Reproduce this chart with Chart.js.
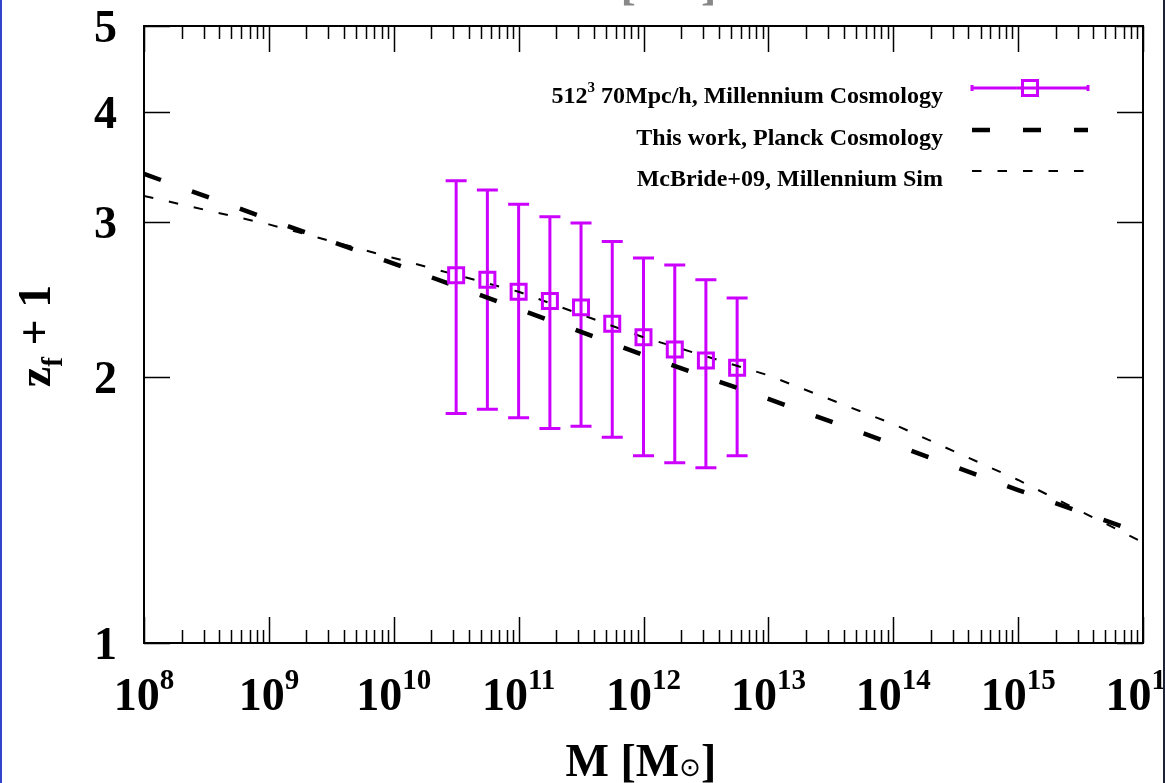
<!DOCTYPE html>
<html>
<head>
<meta charset="utf-8">
<script src="https://cdn.jsdelivr.net/npm/chart.js@4.4.1/dist/chart.umd.min.js"></script>
<style>
  html, body { margin: 0; padding: 0; background: #fff; }
  canvas { display: block; }
</style>
</head>
<body>
<canvas id="zf" width="1165" height="783"></canvas>
<script>
// Formation redshift (z_f + 1) against halo mass, log-log

// 512^3 box, Millennium cosmology: medians with 1-sigma spread
const simMass = [3.16e10, 5.62e10, 1.0e11, 1.78e11, 3.16e11, 5.62e11, 1.0e12, 1.78e12, 3.16e12, 5.62e12]
const simZf1 = [2.61, 2.58, 2.50, 2.44, 2.40, 2.30, 2.22, 2.15, 2.09, 2.05]
const simUpper = [3.34, 3.26, 3.14, 3.04, 2.99, 2.85, 2.73, 2.68, 2.58, 2.46]
const simLower = [1.82, 1.84, 1.80, 1.75, 1.76, 1.71, 1.63, 1.60, 1.58, 1.63]

// model curves
const curveMass = [1e8, 1e9, 1e10, 1e11, 1e12, 1e13, 1e14, 1e15, 1e16]
const planckZf1 = [3.40, 3.02, 2.69, 2.39, 2.12, 1.89, 1.68, 1.49, 1.33]
const mcbrideZf1 = [3.21, 2.98, 2.73, 2.50, 2.22, 2.01, 1.77, 1.53, 1.30]

const xTickExps = [8, 9, 10, 11, 12, 13, 14, 15, 16]
const yTicks = [1, 2, 3, 4, 5]

const seriesLabels = [
  "512^{3} 70Mpc/h, Millennium Cosmology",
  "This work, Planck Cosmology",
  "McBride+09, Millennium Sim",
]

const MAGENTA = "#cc00ff"
const SERIF = "'Liberation Serif', 'Times New Roman', serif"

// split "a^{b}c_{d}" into plain / super / sub runs
function richParts(str) {
  const parts = []
  const re = /([\^_])\{([^}]*)\}/g
  let last = 0, m
  while ((m = re.exec(str))) {
    if (m.index > last) parts.push({ t: str.slice(last, m.index), k: "" })
    parts.push({ t: m[2], k: m[1] })
    last = re.lastIndex
  }
  if (last < str.length) parts.push({ t: str.slice(last), k: "" })
  return parts
}

function drawRich(ctx, str, x, y, size, align) {
  const parts = richParts(str)
  const small = Math.round(size * 0.62)
  const fontFor = p => `bold ${p.k ? small : size}px ${SERIF}`
  let w = 0
  parts.forEach(p => { ctx.font = fontFor(p); p.w = ctx.measureText(p.t).width; w += p.w })
  let cx = align === "right" ? x - w : align === "center" ? x - w / 2 : x
  parts.forEach(p => {
    ctx.font = fontFor(p)
    const dy = p.k === "^" ? -size * 0.45 : p.k === "_" ? size * 0.25 : 0
    ctx.fillText(p.t, cx, y + dy)
    cx += p.w
  })
}

function drawMassTitle(ctx, cx, y, color) {
  const runs = [
    { t: "M [M", f: `bold 46px ${SERIF}` },
    { t: "\u2299", f: "26px 'DejaVu Sans'" },
    { t: "]", f: `bold 46px ${SERIF}` },
  ]
  let w = 0
  runs.forEach(r => { ctx.font = r.f; r.w = ctx.measureText(r.t).width; w += r.w })
  let x = cx - w / 2
  ctx.fillStyle = color
  runs.forEach(r => { ctx.font = r.f; ctx.fillText(r.t, x, y); x += r.w })
}

// vertical error bars with caps, under the square markers
const errorBars = {
  id: "errorBars",
  beforeDatasetsDraw(chart) {
    const { ctx, scales: { x, y } } = chart
    ctx.save()
    ctx.strokeStyle = MAGENTA
    ctx.lineWidth = 3
    simMass.forEach((m, i) => {
      const px = x.getPixelForValue(m)
      const top = y.getPixelForValue(simUpper[i])
      const bot = y.getPixelForValue(simLower[i])
      ctx.beginPath()
      ctx.moveTo(px, top); ctx.lineTo(px, bot)
      ctx.moveTo(px - 10.5, top); ctx.lineTo(px + 10.5, top)
      ctx.moveTo(px - 10.5, bot); ctx.lineTo(px + 10.5, bot)
      ctx.stroke()
    })
    ctx.restore()
  },
}

// gnuplot-style frame: inward ticks on all four sides, labels, titles, key
const frame = {
  id: "frame",
  afterDraw(chart) {
    const { ctx, chartArea: a, scales: { x, y } } = chart
    ctx.save()
    ctx.strokeStyle = "#000"
    ctx.fillStyle = "#000"
    ctx.textBaseline = "alphabetic"

    // ticks
    ctx.lineWidth = 1.5
    ctx.beginPath()
    xTickExps.forEach(e => {
      for (let k = 1; k <= 9; k++) {
        const v = k * Math.pow(10, e)
        if (v > x.max * 1.0001) break
        const px = Math.round(x.getPixelForValue(v)) + 0.5
        const len = k === 1 ? 26 : 13
        ctx.moveTo(px, a.bottom); ctx.lineTo(px, a.bottom - len)
        ctx.moveTo(px, a.top); ctx.lineTo(px, a.top + len)
      }
    })
    yTicks.forEach(v => {
      const py = Math.round(y.getPixelForValue(v)) + 0.5
      ctx.moveTo(a.left, py); ctx.lineTo(a.left + 26, py)
      ctx.moveTo(a.right, py); ctx.lineTo(a.right - 26, py)
    })
    ctx.stroke()

    // border
    ctx.lineWidth = 2
    ctx.strokeRect(a.left, a.top, a.right - a.left, a.bottom - a.top)

    // tick labels
    ctx.textAlign = "left"
    xTickExps.forEach(e => {
      drawRich(ctx, `10^{${e}}`, x.getPixelForValue(Math.pow(10, e)), 710, 46, "center")
    })
    yTicks.forEach(v => {
      drawRich(ctx, String(v), 117, y.getPixelForValue(v) + 16, 46, "right")
    })

    // axis titles (the upper one belongs to the panel above, cut by the page top)
    drawMassTitle(ctx, 641, 776, "#000")
    drawMassTitle(ctx, 641, -1, "#888")
    ctx.save()
    ctx.translate(50, 336)
    ctx.rotate(-Math.PI / 2)
    ctx.fillStyle = "#000"
    drawRich(ctx, "z_{f} + 1", 0, 0, 46, "center")
    ctx.restore()

    // key
    const ds = chart.data.datasets
    const rows = [103, 145, 186]
    const x0 = 972, x1 = 1088
    rows.forEach((by, i) => {
      ctx.fillStyle = "#000"
      drawRich(ctx, seriesLabels[i], 943, by, 24, "right")
      const sy = by - 15
      const d = ds[i]
      ctx.save()
      ctx.strokeStyle = d.borderColor
      ctx.lineWidth = i === 0 ? 3 : d.borderWidth
      ctx.setLineDash(i === 0 ? [] : d.borderDash)
      ctx.beginPath()
      ctx.moveTo(x0, sy); ctx.lineTo(x1, sy)
      if (i === 0) {
        ctx.moveTo(x0, sy - 3); ctx.lineTo(x0, sy + 3)
        ctx.moveTo(x1, sy - 3); ctx.lineTo(x1, sy + 3)
      }
      ctx.stroke()
      if (i === 0) {
        ctx.lineWidth = 3
        ctx.strokeRect(1030 - 7.5, sy - 7.5, 15, 15)
      }
      ctx.restore()
    })

    // page edges
    ctx.fillStyle = "#3344cc"
    ctx.fillRect(0, 0, 2, chart.height)
    ctx.fillStyle = "#1c2233"
    ctx.fillRect(chart.width - 2, 0, 2, chart.height)
    ctx.restore()
  },
}

const toPoints = (xs, ys) => xs.map((m, i) => ({ x: m, y: ys[i] }))

new Chart(document.getElementById("zf"), {
  type: "scatter",
  data: {
    datasets: [
      {
        label: seriesLabels[0],
        data: toPoints(simMass, simZf1),
        showLine: false,
        pointStyle: "rect",
        pointRadius: 10.6,
        pointBorderWidth: 3,
        borderColor: MAGENTA,
        pointBorderColor: MAGENTA,
        pointBackgroundColor: "rgba(0,0,0,0)",
        backgroundColor: "rgba(0,0,0,0)",
      },
      {
        label: seriesLabels[1],
        data: toPoints(curveMass, planckZf1),
        showLine: true,
        borderColor: "#000",
        borderWidth: 4.5,
        borderDash: [18, 33],
        pointRadius: 0,
        clip: 0,
      },
      {
        label: seriesLabels[2],
        data: toPoints(curveMass, mcbrideZf1),
        showLine: true,
        borderColor: "#000",
        borderWidth: 2,
        borderDash: [9.5, 16],
        pointRadius: 0,
        clip: 0,
      },
    ],
  },
  options: {
    responsive: false,
    devicePixelRatio: 1,
    animation: false,
    layout: { padding: { left: 144, right: 22, top: 26, bottom: 140 } },
    plugins: { legend: { display: false }, tooltip: { enabled: false } },
    scales: {
      x: { type: "logarithmic", min: 1e8, max: 1e16, display: false },
      y: { type: "logarithmic", min: 1, max: 5, display: false },
    },
  },
  plugins: [errorBars, frame],
})
</script>
</body>
</html>
